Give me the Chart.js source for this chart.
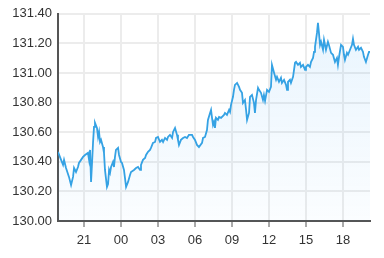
<!DOCTYPE html>
<html>
<head>
<meta charset="utf-8">
<script src="https://cdn.jsdelivr.net/npm/chart.js@4/dist/chart.umd.min.js"></script>
<style>
  html, body { margin: 0; padding: 0; background: #fff; }
  #wrap { width: 384px; height: 258px; }
</style>
</head>
<body>
<div id="wrap"><canvas id="rateChart" width="384" height="258"></canvas></div>
<script>
// time in hours from midnight of day 1 (24+ = next day)
const times = [
  18.89, 19.14, 19.30, 19.38, 19.54, 19.78, 19.95, 20.11, 20.19, 20.35, 20.51, 20.59, 20.76, 20.92,
  21.08, 21.32, 21.41, 21.49, 21.57, 21.65, 21.73, 21.81, 21.89, 22.05, 22.14, 22.22, 22.30, 22.38,
  22.54, 22.62, 22.70, 22.86, 22.95, 23.03, 23.11, 23.19, 23.35, 23.43, 23.51, 23.59, 23.76, 23.84,
  24.00, 24.08, 24.24, 24.32, 24.41, 24.57, 24.73, 24.81, 25.05, 25.22, 25.38, 25.54, 25.62, 25.78,
  25.95, 26.03, 26.19, 26.35, 26.43, 26.59, 26.76, 26.84, 27.00, 27.16, 27.32, 27.41, 27.57, 27.73,
  27.81, 27.97, 28.14, 28.22, 28.38, 28.54, 28.62, 28.70, 28.86, 29.03, 29.19, 29.35, 29.51, 29.76,
  29.84, 30.00, 30.16, 30.32, 30.57, 30.65, 30.81, 30.97, 31.05, 31.22, 31.30, 31.38, 31.46, 31.54,
  31.62, 31.70, 31.86, 31.95, 32.11, 32.35, 32.43, 32.59, 32.76, 32.84, 32.92, 33.08, 33.16, 33.24,
  33.41, 33.57, 33.65, 33.81, 33.89, 34.05, 34.14, 34.22, 34.38, 34.46, 34.62, 34.78, 34.86, 34.95,
  35.11, 35.19, 35.35, 35.51, 35.59, 35.68, 35.84, 36.00, 36.16, 36.24, 36.41, 36.57, 36.65, 36.81,
  36.97, 37.05, 37.22, 37.38, 37.46, 37.54, 37.70, 37.78, 37.95, 38.11, 38.19, 38.35, 38.51, 38.59,
  38.76, 38.92, 39.00, 39.16, 39.32, 39.41, 39.57, 39.65, 39.73, 39.89, 39.97, 40.05, 40.14, 40.22,
  40.38, 40.46, 40.62, 40.78, 40.86, 41.03, 41.19, 41.35, 41.51, 41.59, 41.68, 41.84, 42.00, 42.08,
  42.16, 42.32, 42.41, 42.57, 42.73, 42.81, 42.89, 43.05, 43.22, 43.30, 43.46, 43.62, 43.70, 43.86,
  44.03, 44.11, 44.19
];
const prices = [
  130.467, 130.413, 130.379, 130.413, 130.358, 130.298, 130.243, 130.298, 130.358, 130.331, 130.365, 130.392, 130.413, 130.433,
  130.446, 130.460, 130.413, 130.480, 130.264, 130.392, 130.528, 130.636, 130.663, 130.629, 130.568, 130.602, 130.534, 130.548,
  130.500, 130.460, 130.345, 130.230, 130.250, 130.345, 130.325, 130.365, 130.399, 130.365, 130.433, 130.480, 130.494, 130.446,
  130.399, 130.392, 130.345, 130.291, 130.230, 130.264, 130.311, 130.331, 130.345, 130.358, 130.365, 130.345, 130.379, 130.413,
  130.426, 130.446, 130.467, 130.480, 130.494, 130.528, 130.534, 130.561, 130.568, 130.534, 130.548, 130.534, 130.561, 130.548,
  130.568, 130.582, 130.561, 130.602, 130.629, 130.582, 130.548, 130.514, 130.548, 130.561, 130.568, 130.561, 130.582, 130.582,
  130.568, 130.548, 130.514, 130.500, 130.528, 130.561, 130.568, 130.615, 130.683, 130.730, 130.751, 130.697, 130.649, 130.670,
  130.629, 130.697, 130.683, 130.703, 130.697, 130.717, 130.730, 130.717, 130.751, 130.737, 130.785, 130.839, 130.886, 130.920,
  130.933, 130.906, 130.886, 130.866, 130.798, 130.818, 130.751, 130.683, 130.730, 130.839, 130.852, 130.798, 130.730, 130.818,
  130.899, 130.886, 130.866, 130.818, 130.852, 130.812, 130.886, 130.872, 130.906, 131.055, 131.001, 130.954, 130.974, 130.940,
  130.967, 130.933, 130.954, 130.920, 130.886, 130.940, 130.954, 130.933, 130.974, 131.069, 131.075, 131.055, 131.069, 131.041,
  131.055, 131.021, 131.041, 131.055, 131.041, 131.075, 131.102, 131.143, 131.177, 131.271, 131.339, 131.271, 131.190, 131.211,
  131.157, 131.224, 131.157, 131.211, 131.190, 131.136, 131.123, 131.075, 131.102, 131.055, 131.109, 131.190, 131.177, 131.123,
  131.089, 131.136, 131.123, 131.157, 131.190, 131.231, 131.190, 131.157, 131.177, 131.157, 131.170, 131.143, 131.109, 131.075,
  131.123, 131.143, 131.143
];
const xTicks = [21, 24, 27, 30, 33, 36, 39, 42];
const yMin = 130.0, yMax = 131.4, yStep = 0.2;

const textColor = '#333';
const gridColor = '#ececec';
const axisColor = '#555';

const points = times.map((t, i) => ({ x: t, y: prices[i] }));

function fillGradient(ctx) {
    const area = ctx.chart.chartArea;
    if (!area) return 'rgba(33,150,243,0.06)';
    const g = ctx.chart.ctx.createLinearGradient(0, area.top, 0, area.bottom);
    g.addColorStop(0, 'rgba(33,150,243,0.10)');
    g.addColorStop(1, 'rgba(33,150,243,0.02)');
    return g;
}

new Chart(document.getElementById('rateChart'), {
    type: 'line',
    data: {
        datasets: [{
            data: points,
            borderColor: '#35a2e4',
            borderWidth: 1.8,
            pointRadius: 0,
            tension: 0,
            fill: 'start',
            backgroundColor: fillGradient
        }]
    },
    options: {
        responsive: false,
        animation: false,
        layout: { padding: { top: 7, right: 14, left: 0, bottom: 0 } },
        plugins: { legend: { display: false }, tooltip: { enabled: false } },
        scales: {
            x: {
                type: 'linear',
                min: times[0],
                max: times[times.length - 1],
                afterBuildTicks: s => { s.ticks = xTicks.map(v => ({ value: v })); },
                afterFit: s => { s.height = 37; },
                ticks: {
                    color: textColor,
                    font: { family: 'Liberation Sans, Arial, sans-serif', size: 13 },
                    padding: 6,
                    maxRotation: 0,
                    callback: v => String(v % 24).padStart(2, '0')
                },
                grid: { color: gridColor, lineWidth: 2, tickLength: 6, tickColor: axisColor, tickWidth: 1 },
                border: { color: axisColor, width: 2 }
            },
            y: {
                min: yMin,
                max: yMax,
                afterFit: s => { s.width = 58; },
                ticks: {
                    stepSize: yStep,
                    color: textColor,
                    font: { family: 'Liberation Sans, Arial, sans-serif', size: 13 },
                    padding: 6,
                    callback: v => v.toFixed(2)
                },
                grid: { color: gridColor, lineWidth: 2, drawTicks: false },
                border: { color: axisColor, width: 2 }
            }
        }
    }
});
</script>
</body>
</html>
